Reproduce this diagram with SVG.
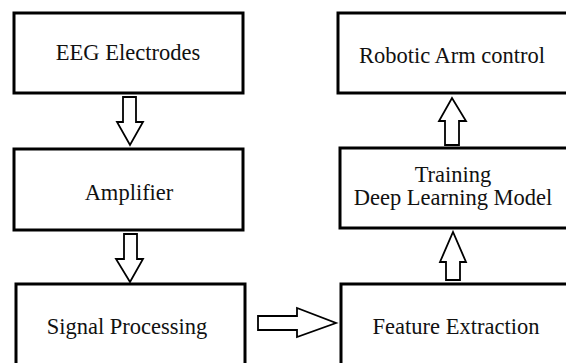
<svg xmlns="http://www.w3.org/2000/svg" width="566" height="363" viewBox="0 0 566 363">
<style>
.box{fill:#fff;stroke:#000;stroke-width:3}
.arr{fill:#fff;stroke:#000;stroke-width:1.8;stroke-linejoin:miter}
.t{font-family:"Liberation Serif","Times New Roman",Tinos,"DejaVu Serif",serif;font-size:22.5px;fill:#111;text-anchor:middle}
</style>
<rect width="566" height="363" fill="#fff"/>
<g id="eeg"><rect class="box" x="14" y="13" width="229" height="80"/><text class="t" x="128" y="60">EEG Electrodes</text></g>
<g id="amplifier"><rect class="box" x="14" y="149" width="229" height="81"/><text class="t" x="129" y="200">Amplifier</text></g>
<g id="signal"><rect class="box" x="16" y="284" width="229" height="82"/><text class="t" x="127" y="334">Signal Processing</text></g>
<g id="robotic"><rect class="box" x="338" y="13" width="230" height="80"/><text class="t" x="452" y="63">Robotic Arm control</text></g>
<g id="training"><rect class="box" x="340" y="148" width="228" height="80"/><text class="t" x="453" y="182">Training</text><text class="t" x="453" y="205">Deep Learning Model</text></g>
<g id="feature"><rect class="box" x="341" y="284" width="227" height="82"/><text class="t" x="456" y="334">Feature Extraction</text></g>
<g id="connectors">
<polygon class="arr" points="123,97 136,97 136,122 143,122 130,145 117,122 123,122"/>
<polygon class="arr" points="124,234 137,234 137,259 143,259 130,282 116,259 124,259"/>
<polygon class="arr" points="258,316 297,316 297,308 336,323 297,337 297,330 258,330"/>
<polygon class="arr" points="445,145 459,145 459,121 466,121 452,98 439,121 445,121"/>
<polygon class="arr" points="446,280 460,280 460,262 466,262 453,232 440,262 446,262"/>
</g>
</svg>
